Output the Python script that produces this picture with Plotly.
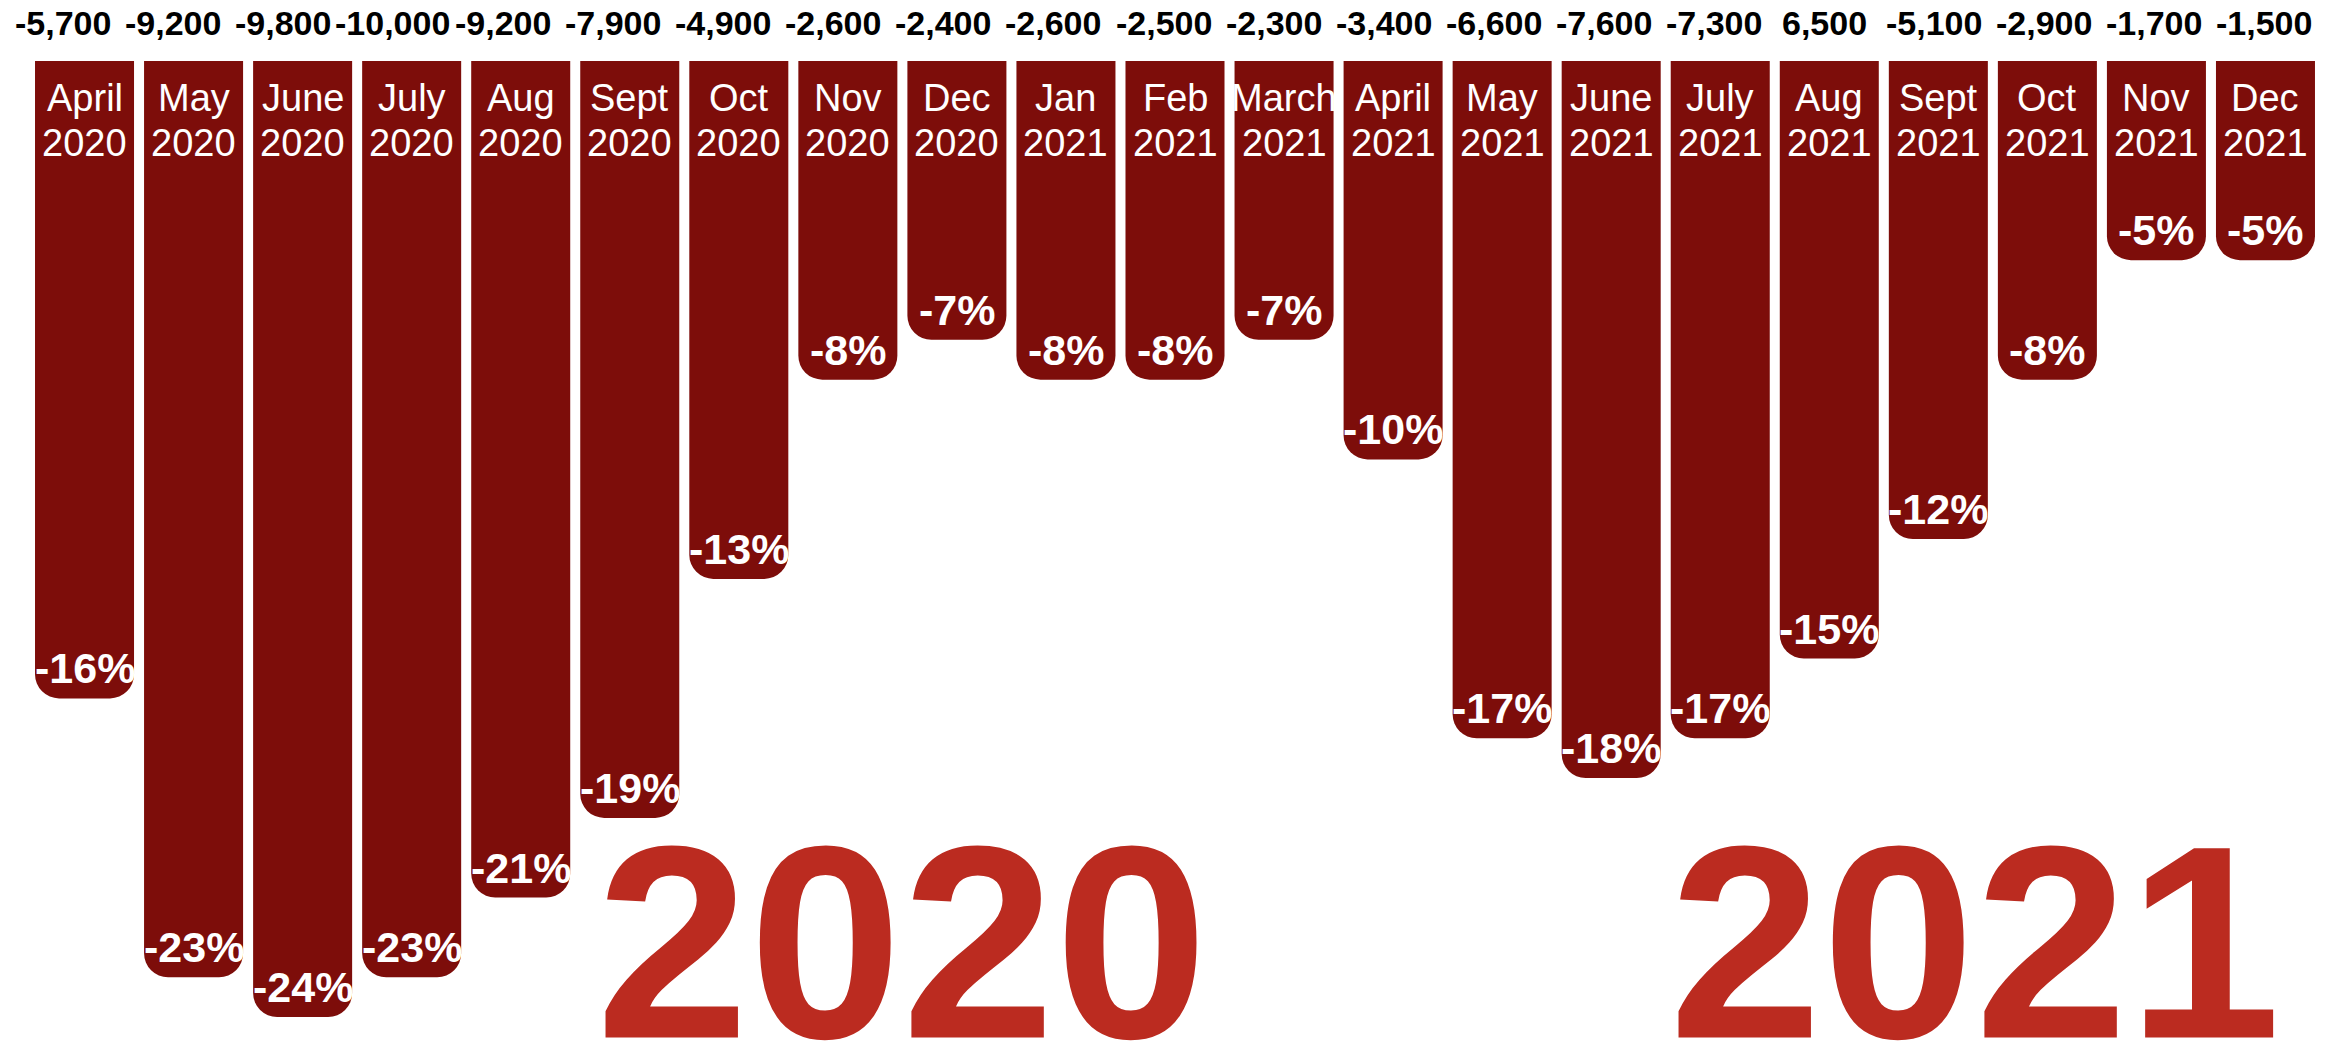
import plotly.graph_objects as go

months = ["April", "May", "June", "July", "Aug", "Sept", "Oct", "Nov", "Dec",
          "Jan", "Feb", "March", "April", "May", "June", "July", "Aug", "Sept",
          "Oct", "Nov", "Dec"]
years = ["2020", "2020", "2020", "2020", "2020", "2020", "2020", "2020", "2020",
         "2021", "2021", "2021", "2021", "2021", "2021", "2021", "2021", "2021",
         "2021", "2021", "2021"]
job_change = [-5700, -9200, -9800, -10000, -9200, -7900, -4900, -2600, -2400,
              -2600, -2500, -2300, -3400, -6600, -7600, -7300, 6500, -5100,
              -2900, -1700, -1500]
pct_change = [-16, -23, -24, -23, -21, -19, -13, -8, -7, -8, -8, -7, -10, -17,
              -18, -17, -15, -12, -8, -5, -5]
big_years = ["2020", "2021"]

BAR = "#7D0D0A"
BIG = "#BB2B20"
FONT = "Liberation Sans, Arial, sans-serif"

cats = [f"{m} {y}" for m, y in zip(months, years)]

fig = go.Figure(go.Bar(
    x=cats, y=pct_change,
    marker=dict(color=BAR, line=dict(width=0), cornerradius=24),
    hoverinfo="skip",
))

ann = []
n = len(cats)
for i, (c, m, y, j, p) in enumerate(zip(cats, months, years, job_change, pct_change)):
    # top change labels
    ann.append(dict(x=c, xref="x", y=1, yref="paper", text=f"{j:,}",
                    showarrow=False, xanchor="center", yanchor="middle",
                    yshift=38, xshift=-22 + 1.05 * i, bgcolor="white", borderpad=0,
                    font=dict(family=FONT, size=34, color="black", weight="bold")))
    # month / year labels inside bars
    ann.append(dict(x=c, xref="x", y=1, yref="paper", text=m, showarrow=False,
                    xanchor="center", yanchor="middle", yshift=-37,
                    font=dict(family=FONT, size=38, color="white")))
    ann.append(dict(x=c, xref="x", y=1, yref="paper", text=y, showarrow=False,
                    xanchor="center", yanchor="middle", yshift=-82,
                    font=dict(family=FONT, size=38, color="white")))
    # percentage labels at bar ends
    ann.append(dict(x=c, xref="x", y=p, yref="y", text=f"{p}%", showarrow=False,
                    xanchor="center", yanchor="middle", yshift=30,
                    font=dict(family=FONT, size=43, color="white", weight="bold")))

for xpos, t in zip([7.5, 17.34], big_years):
    ann.append(dict(x=xpos, xref="x", y=0.1, yref="paper", text=t, showarrow=False,
                    xanchor="center", yanchor="middle", yshift=3,
                    height=206, valign="middle",
                    font=dict(family=FONT, size=275, color=BIG, weight="bold")))

fig.update_layout(
    width=2341, height=1043,
    margin=dict(l=30, r=21, t=61, b=0, pad=0),
    paper_bgcolor="white", plot_bgcolor="white",
    bargap=0.092,
    showlegend=False,
    annotations=ann,
    xaxis=dict(range=[-0.5, n - 0.5], showticklabels=False, showgrid=False,
               zeroline=False, showline=False, fixedrange=True),
    yaxis=dict(range=[-24.65, 0], showticklabels=False, showgrid=False,
               zeroline=False, showline=False, fixedrange=True),
)

fig.write_html("out.html", config={"displayModeBar": False},
               post_script="document.body.style.margin='0';document.body.style.overflow='hidden';")
